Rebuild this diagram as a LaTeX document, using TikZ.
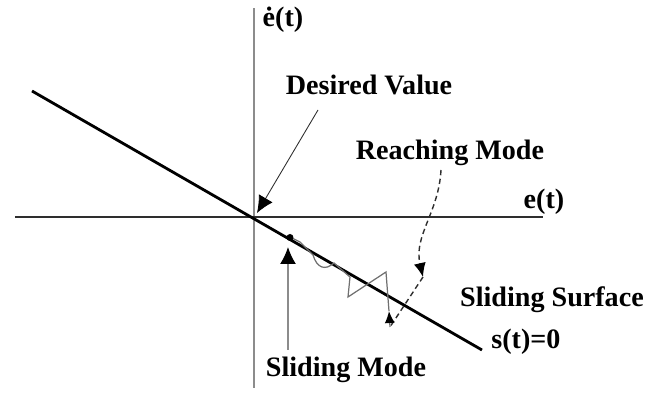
\documentclass[tikz,border=0pt]{standalone}
\usepackage{fontspec}
\setmainfont{Liberation Serif}
\usepackage{tikz}
\usetikzlibrary{arrows.meta, positioning}
\definecolor{smcaxisgray}{HTML}{8C8C8C}
\definecolor{smcaxisdark}{HTML}{2E2E2E}
\definecolor{smctraj}{HTML}{707070}

\begin{document}
\begin{tikzpicture}[
  every node/.style={font=\fontsize{16}{19}\selectfont\bfseries, inner sep=0pt},
  vaxis/.style={line width=1.1pt, color=smcaxisgray},
  haxis/.style={line width=1.3pt, color=smcaxisdark},
  surface/.style={line width=1.6pt, color=black},
  pointer/.style={-{Latex[length=0.34cm, width=0.32cm, color=black]}, line width=0.5pt, color=smcaxisdark},
  reach/.style={line width=0.8pt, color=smcaxisdark, densely dashed},
  traj/.style={line width=0.7pt, color=smctraj}
]
\useasboundingbox (-5.08,-3.54) rectangle (7.84,4.34);

\coordinate (O) at (0,0);
\coordinate (ytop) at (0,4.18);
\coordinate (ybot) at (0,-3.42);
\coordinate (xleft) at (-4.78,0);
\coordinate (xright) at (5.78,0);
\coordinate (sstart) at (-4.44,2.52);
\coordinate (send) at (4.56,-2.66);

\draw[vaxis] (ybot) -- (ytop);
\draw[haxis] (xleft) -- (xright);
\draw[surface] (sstart) -- (send);

\node (edot) at (0.58,3.94) {ė(t)};
\node (eaxis) at (5.80,0.30) {e(t)};

\node (desired) at (2.30,2.64) {Desired Value};
\node (reaching) at (3.92,1.28) {Reaching Mode};
\node (slidsurf) at (5.96,-1.66) {Sliding Surface};
\node (szero) at (5.44,-2.50) {s(t)=0};
\node (slidmode) at (1.84,-3.06) {Sliding Mode};

\coordinate (dvtail) at (1.28,2.14);
\coordinate (dvtip) at (0.06,0.08);
\draw[pointer] (dvtail) -- (dvtip);

\coordinate (rtail) at (3.74,0.94);
\coordinate (rmid) at (3.38,-1.20);
\coordinate (tbot) at (2.72,-2.20);
\draw[reach, -{Latex[length=0.28cm, width=0.24cm, color=black]}] (rtail) to[out=-93, in=103] (rmid);
\draw[reach] (rmid) -- (tbot);

\coordinate (tup) at (2.70,-1.88);
\draw[traj, -{Latex[length=0.24cm, width=0.2cm, color=black]}] (tbot) -- (tup);
\draw[traj] (tup) -- (2.64,-1.10) -- (1.88,-1.60) -- (1.92,-1.20) -- (1.60,-0.92)
  .. controls (1.42,-1.08) and (1.26,-1.02) .. (1.18,-0.76) -- (0.92,-0.50) -- (0.72,-0.40);
\fill (0.72,-0.41) circle (0.07);

\coordinate (smtail) at (0.68,-2.66);
\coordinate (smtip) at (0.68,-0.60);
\draw[pointer, color=smcaxisgray, line width=0.9pt] (smtail) -- (smtip);

\end{tikzpicture}
\end{document}
